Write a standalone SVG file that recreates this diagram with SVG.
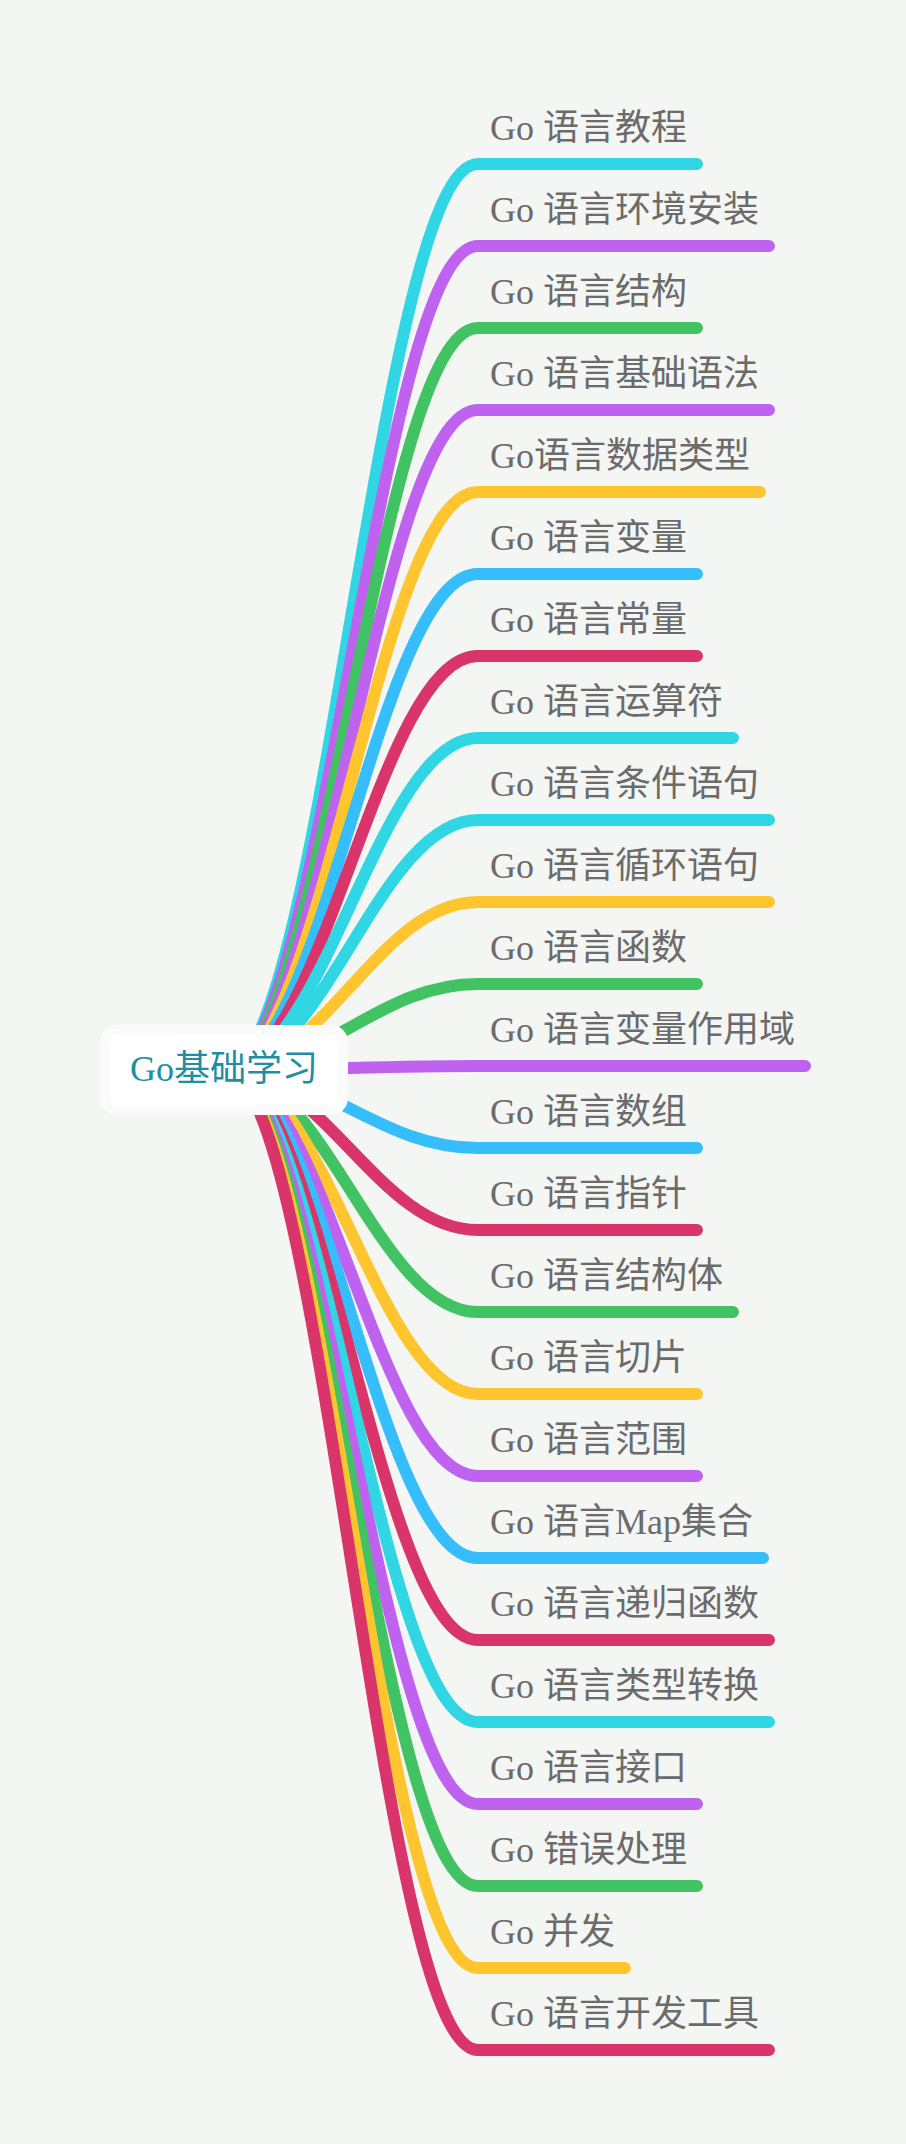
<svg xmlns="http://www.w3.org/2000/svg" width="906" height="2144" viewBox="0 0 906 2144">
<style>
.bg{fill:#f4f6f3}
.b{fill:none;stroke-width:12;stroke-linecap:round}
.c1{stroke:#31d6e5}.c2{stroke:#bf62f0}.c3{stroke:#42c363}.c4{stroke:#ffc52f}.c5{stroke:#36bdfc}.c6{stroke:#d9356b}
.t{font-family:'Liberation Serif','Noto Sans CJK SC',serif;font-size:36px;fill:#6b6b6b}
.rt{font-family:'Liberation Serif','Noto Sans CJK SC',serif;font-size:36px;fill:#1f8ea3;text-anchor:middle}
</style>
<rect class="bg" x="0" y="0" width="906" height="2144"/>
<g id="connectors">
<path class="b c1" d="M224 1070 C324 1070 378 164 478 164 H697"/>
<path class="b c2" d="M224 1070 C324 1070 378 246 478 246 H769"/>
<path class="b c3" d="M224 1070 C324 1070 378 328 478 328 H697"/>
<path class="b c2" d="M224 1070 C324 1070 378 410 478 410 H769"/>
<path class="b c4" d="M224 1070 C324 1070 378 492 478 492 H760"/>
<path class="b c5" d="M224 1070 C324 1070 378 574 478 574 H697"/>
<path class="b c6" d="M224 1070 C324 1070 378 656 478 656 H697"/>
<path class="b c1" d="M224 1070 C324 1070 378 738 478 738 H733"/>
<path class="b c1" d="M224 1070 C324 1070 378 820 478 820 H769"/>
<path class="b c4" d="M224 1070 C324 1070 378 902 478 902 H769"/>
<path class="b c3" d="M224 1070 C324 1070 378 984 478 984 H697"/>
<path class="b c2" d="M224 1070 C324 1070 378 1066 478 1066 H805"/>
<path class="b c5" d="M224 1070 C324 1070 378 1148 478 1148 H697"/>
<path class="b c6" d="M224 1070 C324 1070 378 1230 478 1230 H697"/>
<path class="b c3" d="M224 1070 C324 1070 378 1312 478 1312 H733"/>
<path class="b c4" d="M224 1070 C324 1070 378 1394 478 1394 H697"/>
<path class="b c2" d="M224 1070 C324 1070 378 1476 478 1476 H697"/>
<path class="b c5" d="M224 1070 C324 1070 378 1558 478 1558 H763"/>
<path class="b c6" d="M224 1070 C324 1070 378 1640 478 1640 H769"/>
<path class="b c1" d="M224 1070 C324 1070 378 1722 478 1722 H769"/>
<path class="b c2" d="M224 1070 C324 1070 378 1804 478 1804 H697"/>
<path class="b c3" d="M224 1070 C324 1070 378 1886 478 1886 H697"/>
<path class="b c4" d="M224 1070 C324 1070 378 1968 478 1968 H625"/>
<path class="b c6" d="M224 1070 C324 1070 378 2050 478 2050 H769"/>
</g>
<g id="root">
<rect x="105" y="1030" width="238" height="80" rx="12" fill="#ffffff" stroke="#fafbfa" stroke-width="10"/>
<text class="rt" x="224" y="1081">Go基础学习</text>
</g>
<g id="n0"><text class="t" x="490" y="140">Go 语言教程</text></g>
<g id="n1"><text class="t" x="490" y="222">Go 语言环境安装</text></g>
<g id="n2"><text class="t" x="490" y="304">Go 语言结构</text></g>
<g id="n3"><text class="t" x="490" y="386">Go 语言基础语法</text></g>
<g id="n4"><text class="t" x="490" y="468">Go语言数据类型</text></g>
<g id="n5"><text class="t" x="490" y="550">Go 语言变量</text></g>
<g id="n6"><text class="t" x="490" y="632">Go 语言常量</text></g>
<g id="n7"><text class="t" x="490" y="714">Go 语言运算符</text></g>
<g id="n8"><text class="t" x="490" y="796">Go 语言条件语句</text></g>
<g id="n9"><text class="t" x="490" y="878">Go 语言循环语句</text></g>
<g id="n10"><text class="t" x="490" y="960">Go 语言函数</text></g>
<g id="n11"><text class="t" x="490" y="1042">Go 语言变量作用域</text></g>
<g id="n12"><text class="t" x="490" y="1124">Go 语言数组</text></g>
<g id="n13"><text class="t" x="490" y="1206">Go 语言指针</text></g>
<g id="n14"><text class="t" x="490" y="1288">Go 语言结构体</text></g>
<g id="n15"><text class="t" x="490" y="1370">Go 语言切片</text></g>
<g id="n16"><text class="t" x="490" y="1452">Go 语言范围</text></g>
<g id="n17"><text class="t" x="490" y="1534">Go 语言Map集合</text></g>
<g id="n18"><text class="t" x="490" y="1616">Go 语言递归函数</text></g>
<g id="n19"><text class="t" x="490" y="1698">Go 语言类型转换</text></g>
<g id="n20"><text class="t" x="490" y="1780">Go 语言接口</text></g>
<g id="n21"><text class="t" x="490" y="1862">Go 错误处理</text></g>
<g id="n22"><text class="t" x="490" y="1944">Go 并发</text></g>
<g id="n23"><text class="t" x="490" y="2026">Go 语言开发工具</text></g>
</svg>
